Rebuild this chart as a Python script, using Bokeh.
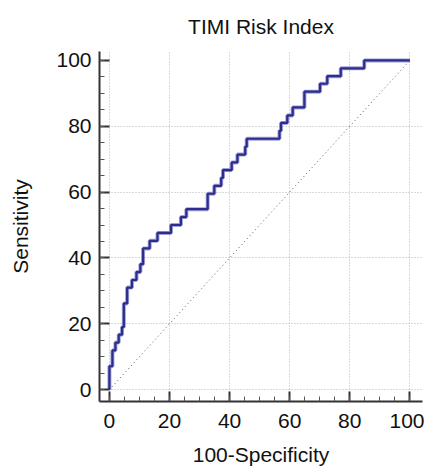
from bokeh.plotting import figure
from bokeh.models import Range1d, SingleIntervalTicker, FixedTicker
from bokeh.embed import file_html
from bokeh.resources import INLINE

# ROC curve vertices (100-Specificity, Sensitivity)
fpr = [0, 0, 1, 2, 3.1, 4.2, 4.8, 5.9, 7.5, 9, 10.3, 11.2, 13.4, 16, 20.5, 23.8,
       25.6, 32.7, 34.9, 37.2, 37.8, 40.7, 42.6, 45.2, 45.7, 56.6, 57.1, 59.2,
       61, 64.9, 70.1, 72.5, 77, 84.8, 100]
tpr = [0, 7.1, 11.9, 14.3, 16.7, 19.0, 26.2, 31.0, 33.3, 35.7, 38.1, 42.9, 45.2,
       47.6, 50.0, 52.4, 54.8, 59.5, 61.9, 64.3, 66.7, 69.0, 71.4, 73.8, 76.2,
       78.6, 81.0, 83.3, 85.7, 90.5, 92.9, 95.2, 97.6, 100, 100]
ref_x = [0, 100]
ref_y = [0, 100]
x_grid_ticks = [0, 20, 40, 60, 80, 100]
y_grid_ticks = [0, 20, 40, 60, 80]

FONT = "Liberation Sans"

p = figure(width=424, height=468,
           min_border_left=99, min_border_right=2, min_border_top=50, min_border_bottom=65,
           output_backend="svg", toolbar_location=None,
           x_range=Range1d(-3.3, 104.2), y_range=Range1d(-3.6, 102.7),
           title="TIMI Risk Index")

p.title.text_font = FONT
p.title.text_font_size = "21px"
p.title.text_font_style = "normal"
p.title.text_color = "#111111"
p.title.align = "center"
p.title.vertical_align = "middle"
p.title.standoff = 26

p.outline_line_color = None
p.background_fill_color = "white"
p.border_fill_color = "white"

for ax in (p.xaxis[0], p.yaxis[0]):
    ax.ticker = SingleIntervalTicker(interval=20, num_minor_ticks=4)
    ax.axis_line_color = "#333333"
    ax.axis_line_width = 2
    ax.major_tick_line_color = "#333333"
    ax.major_tick_line_width = 2
    ax.minor_tick_line_color = "#555555"
    ax.minor_tick_line_width = 1
    ax.major_tick_in = 10
    ax.major_tick_out = 0
    ax.minor_tick_in = 5
    ax.minor_tick_out = 0
    ax.major_label_text_font = FONT
    ax.major_label_text_font_size = "21px"
    ax.major_label_text_color = "#111111"
    ax.axis_label_text_font = FONT
    ax.axis_label_text_font_size = "21px"
    ax.axis_label_text_font_style = "normal"
    ax.axis_label_text_color = "#111111"

p.xaxis.axis_label = "100-Specificity"
p.yaxis.axis_label = "Sensitivity"
p.xaxis.major_label_standoff = 12
p.xaxis.axis_label_standoff = 12
p.yaxis.major_label_standoff = 8
p.yaxis.axis_label_standoff = 21

p.xgrid.ticker = FixedTicker(ticks=x_grid_ticks)
p.ygrid.ticker = FixedTicker(ticks=y_grid_ticks)
for g in (p.xgrid[0], p.ygrid[0]):
    g.grid_line_color = "#b5b5b5"
    g.grid_line_dash = "1 2"
    g.grid_line_width = 1

p.line(ref_x, ref_y, line_color="#7a4a5a", line_width=1, line_dash="1 3")
p.step(fpr, tpr, mode="after", line_color="#7878c8", line_width=4, line_alpha=0.7)
p.step(fpr, tpr, mode="after", line_color="#2d2d8c", line_width=2.2)

open("out.html", "w").write(file_html(p, INLINE))
